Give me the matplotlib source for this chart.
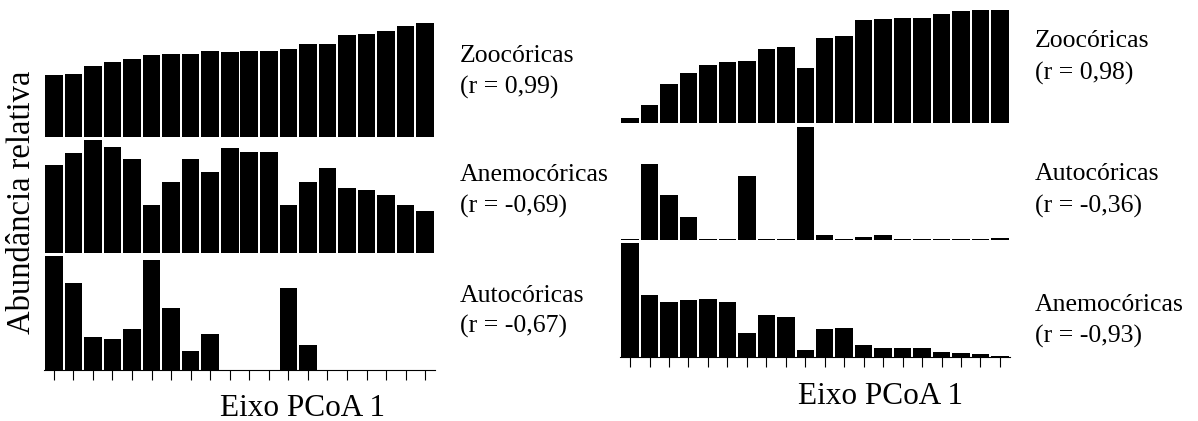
import matplotlib
matplotlib.use("Agg")
import matplotlib.pyplot as plt
import numpy as np

plt.rcParams["font.family"] = ["Liberation Serif", "DejaVu Serif"]

W, H = 1198, 421

# relative abundance per site, sites ordered along PCoA axis 1
left_zoo = [61.7, 63, 70.7, 75, 77.7, 81.7, 83, 83, 85.7, 84.3,
            85.7, 85.7, 88, 92.3, 92.3, 101.3, 102.7, 105.3, 110.7, 113.3]
left_anemo = [88.3, 100, 113, 106.7, 94.7, 48.3, 71, 94.7, 81.7, 105.3,
              101.3, 101.3, 48.3, 71, 85.3, 65.7, 63, 58, 48.3, 42]
left_auto = [114, 87.3, 33, 30.7, 41, 109.7, 62.3, 19, 35.7, 0,
             0, 0, 82, 25, 0, 0, 0, 0, 0, 0]

right_zoo = [5.3, 18, 39.7, 50.3, 58, 61, 62.3, 74, 76.3, 55.7,
             85.7, 87, 103, 104.3, 105.7, 105.7, 109.3, 112, 113.3, 113.3]
right_auto = [1, 76, 45, 23, 1, 1, 63.7, 1, 1, 112.7,
              4.7, 1, 3, 4.7, 1, 1, 1, 1, 1, 2]
right_anemo = [114, 62.3, 55.7, 57, 58.3, 55.7, 24, 42.3, 40, 7,
               28, 29.3, 12, 9.7, 9.7, 9.7, 5.7, 4, 3, 1.3]

left_names = ["Zoocóricas", "Anemocóricas", "Autocóricas"]
left_r = ["(r = 0,99)", "(r = -0,69)", "(r = -0,67)"]
right_names = ["Zoocóricas", "Autocóricas", "Anemocóricas"]
right_r = ["(r = 0,98)", "(r = -0,36)", "(r = -0,93)"]

YMAX = 114


def px_axes(fig, x0, y0, x1, y1):
    return fig.add_axes([x0 / W, 1 - y1 / H, (x1 - x0) / W, (y1 - y0) / H])


def draw_panel(ax, values, bottom=False):
    x = np.arange(len(values))
    ax.bar(x, values, width=0.9, color="black", linewidth=0)
    ax.set_xlim(-0.5, len(values) - 0.5)
    ax.set_ylim(0, YMAX)
    for s in ["top", "right", "left"]:
        ax.spines[s].set_visible(False)
    ax.set_yticks([])
    if bottom:
        ax.spines["bottom"].set_linewidth(0.8)
        ax.set_xticks(x)
        ax.set_xticklabels([])
        ax.tick_params(axis="x", direction="out", length=7, width=0.8)
    else:
        ax.spines["bottom"].set_visible(False)
        ax.set_xticks([])


def label(fig, x, y1, y2, name, r):
    fig.text(x / W, 1 - y1 / H, name, fontsize=18.5, va="baseline", ha="left")
    fig.text(x / W, 1 - y2 / H, r, fontsize=18.5, va="baseline", ha="left")


fig = plt.figure(figsize=(W / 100, H / 100), dpi=100)

left_rows = [(22.7, 136.7), (139.3, 253.3), (256, 370)]
left_data = [left_zoo, left_anemo, left_auto]
for i, ((y0, y1), vals) in enumerate(zip(left_rows, left_data)):
    ax = px_axes(fig, 44, y0, 435, y1)
    draw_panel(ax, vals, bottom=(i == 2))

right_rows = [(9.3, 123.3), (126, 240), (243.3, 357.3)]
right_data = [right_zoo, right_auto, right_anemo]
for i, ((y0, y1), vals) in enumerate(zip(right_rows, right_data)):
    ax = px_axes(fig, 620.3, y0, 1009.7, y1)
    draw_panel(ax, vals, bottom=(i == 2))

left_text_y = [(61.7, 94), (181, 213), (301.7, 333)]
for (a, b), n, r in zip(left_text_y, left_names, left_r):
    label(fig, 460, a, b, n, r)

right_text_y = [(46.7, 80), (180, 213), (311, 343)]
for (a, b), n, r in zip(right_text_y, right_names, right_r):
    label(fig, 1035, a, b, n, r)

fig.text(21.5 / W, 1 - 202 / H, "Abundância relativa", fontsize=23.5,
         rotation=90, ha="center", va="center")
fig.text(303 / W, 1 - 416 / H, "Eixo PCoA 1", fontsize=22.5,
         ha="center", va="baseline")
fig.text(881 / W, 1 - 404 / H, "Eixo PCoA 1", fontsize=22.5,
         ha="center", va="baseline")

fig.savefig("out.png", dpi=100)
